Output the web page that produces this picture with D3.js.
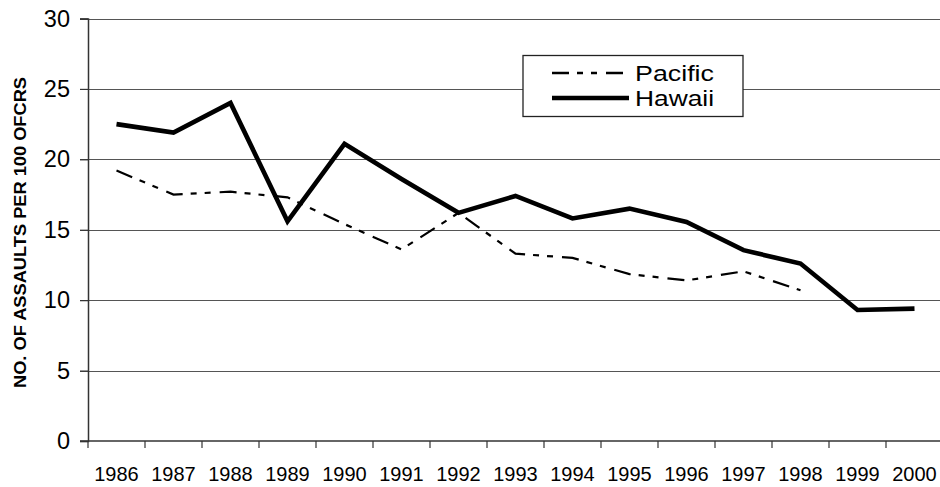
<!DOCTYPE html>
<html>
<head>
<meta charset="utf-8">
<script src="https://cdn.jsdelivr.net/npm/d3@7"></script>
<style>
  html, body { margin: 0; padding: 0; background: #fff; }
  svg { display: block; font-family: Arial, "Liberation Sans", sans-serif; }
</style>
</head>
<body>
<svg id="chart" width="940" height="487"></svg>
<script>
// Assault rates per 100 officers, by year
const years = ["1986","1987","1988","1989","1990","1991","1992","1993","1994","1995","1996","1997","1998","1999","2000"];
const hawaii  = [22.5, 21.9, 24.0, 15.6, 21.1, 18.6, 16.2, 17.4, 15.8, 16.5, 15.55, 13.55, 12.6, 9.3, 9.4];
const pacific = [19.2, 17.5, 17.7, 17.3, 15.4, 13.6, 16.2, 13.3, 13.0, 11.85, 11.4, 12.05, 10.7, null, null];
const yTicks  = [0, 5, 10, 15, 20, 25, 30];
const yLabel  = "NO. OF ASSAULTS PER 100 OFCRS";
const seriesNames = ["Pacific", "Hawaii"];

const svg = d3.select("#chart");
const plotLeft = 88, plotRight = 943, plotTop = 18.5, plotBottom = 441;

const x = d3.scaleBand().domain(years).range([plotLeft, plotRight]);
const y = d3.scaleLinear().domain([0, 30]).range([plotBottom, plotTop]);

// horizontal gridlines with left tick stubs
svg.append("g").selectAll("line").data(yTicks.filter(d => d > 0)).join("line")
  .attr("x1", plotLeft - 8).attr("x2", 940)
  .attr("y1", d => Math.round(y(d)) + 0.5).attr("y2", d => Math.round(y(d)) + 0.5)
  .attr("stroke", "#555").attr("stroke-width", 1.2);

// y axis
const yAxis = svg.append("g").attr("transform", `translate(${plotLeft},0)`)
  .call(d3.axisLeft(y).tickValues(yTicks).tickSize(8).tickPadding(10));
yAxis.select(".domain").attr("stroke", "#333").attr("stroke-width", 1.5);
yAxis.selectAll(".tick line").attr("stroke", "#333").attr("stroke-width", 1.2);
yAxis.selectAll("text").attr("font-size", 23.5).attr("fill", "#000")
  .attr("font-family", "Arial, 'Liberation Sans', sans-serif");

// x axis: ticks at category boundaries
const xAxisG = svg.append("g").attr("transform", `translate(0,${plotBottom})`);
xAxisG.append("line").attr("x1", plotLeft - 8).attr("x2", 940).attr("y1", 0).attr("y2", 0)
  .attr("stroke", "#333").attr("stroke-width", 1.5);
const bounds = years.map(d => x(d));
xAxisG.selectAll("line.tk").data(bounds).join("line").attr("class", "tk")
  .attr("x1", d => d).attr("x2", d => d).attr("y1", 0).attr("y2", 7)
  .attr("stroke", "#333").attr("stroke-width", 1.2);
xAxisG.selectAll("text").data(years).join("text")
  .attr("x", d => x(d) + x.bandwidth() / 2).attr("y", 40)
  .attr("text-anchor", "middle").attr("font-size", 20).attr("fill", "#000")
  .text(d => d);

// y axis title
svg.append("text")
  .attr("transform", "translate(25.5,232.5) rotate(-90)")
  .attr("text-anchor", "middle").attr("font-size", 16.5).attr("font-weight", "bold")
  .attr("textLength", 311).attr("lengthAdjust", "spacingAndGlyphs")
  .text(yLabel);

const cx = d => x(d) + x.bandwidth() / 2;
const line = d3.line().defined(d => d[1] != null).x(d => cx(d[0])).y(d => y(d[1]));

svg.append("path").datum(years.map((d, i) => [d, pacific[i]]))
  .attr("d", line).attr("fill", "none").attr("stroke", "#000")
  .attr("stroke-width", 2.2).attr("stroke-dasharray", "17,8,6,8,6,9");

svg.append("path").datum(years.map((d, i) => [d, hawaii[i]]))
  .attr("d", line).attr("fill", "none").attr("stroke", "#000")
  .attr("stroke-width", 4.6).attr("stroke-linejoin", "miter");

// legend
const lg = svg.append("g");
lg.append("rect").attr("x", 523).attr("y", 55.5).attr("width", 220).attr("height", 61)
  .attr("fill", "#fff").attr("stroke", "#222").attr("stroke-width", 1.3);
const lgY = [73, 98];
lg.append("line").attr("x1", 552).attr("x2", 629).attr("y1", lgY[0]).attr("y2", lgY[0])
  .attr("stroke", "#000").attr("stroke-width", 2.5).attr("stroke-dasharray", "17,8,6,8,6,9");
lg.append("line").attr("x1", 552).attr("x2", 629).attr("y1", lgY[1]).attr("y2", lgY[1])
  .attr("stroke", "#000").attr("stroke-width", 4.6);
lg.selectAll("text").data(seriesNames).join("text")
  .attr("x", 635).attr("y", (d, i) => lgY[i] + 8)
  .attr("font-size", 22.5).attr("fill", "#000")
  .attr("textLength", 79).attr("lengthAdjust", "spacingAndGlyphs")
  .text(d => d);
</script>
</body>
</html>
